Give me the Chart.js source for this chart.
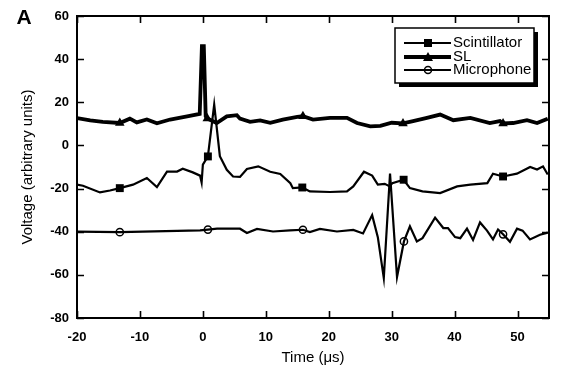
<!DOCTYPE html>
<html>
<head>
<meta charset="utf-8">
<script src="https://cdn.jsdelivr.net/npm/chart.js@4.4.0/dist/chart.umd.min.js"></script>
<style>
  html, body { margin: 0; padding: 0; background: #fff; }
  #wrap { position: relative; width: 569px; height: 377px; }
</style>
</head>
<body>
<div id="wrap"><canvas id="chart" width="569" height="377"></canvas></div>
<script>
// Valeurs (temps en µs, tension en unités arbitraires)
const slTime = [-20, -17.9, -15.9, -13.2, -11.6, -10.5, -8.9, -7.3, -5.2, -2.5, -0.5, -0.15, 0.15, 0.45, 0.7, 2.2, 3.8, 5.4, 5.9, 7.5, 9.1, 10.7, 12.7, 15.0, 15.9, 17.5, 20.2, 22.9, 24.5, 26.6, 28.2, 30.0, 31.8, 33.4, 35.6, 37.7, 39.8, 42.5, 45.6, 47.2, 47.7, 49.3, 51.5, 53.1, 54.8];
const slVoltage = [12.7, 11.6, 10.9, 10.4, 12.4, 10.7, 12.0, 10.3, 12.0, 13.5, 14.6, 46, 46, 13.5, 12.5, 10.4, 13.5, 14.0, 12.4, 10.9, 11.6, 10.5, 12.0, 13.2, 13.5, 12.0, 12.8, 12.8, 10.4, 8.8, 9.1, 10.5, 10.2, 11.3, 12.8, 14.3, 11.7, 12.8, 10.4, 11.3, 10.2, 10.4, 11.7, 10.4, 12.4];

const scintTime = [-20, -19.05, -16.35, -14.76, -13.2, -11.1, -8.9, -7.3, -5.7, -4.1, -3.2, -1.6, -0.45, -0.2, 0.0, 0.8, 1.8, 2.7, 3.8, 4.8, 5.9, 7.0, 8.8, 10.7, 12.3, 13.9, 14.3, 15.8, 17.0, 20.2, 22.9, 23.9, 25.6, 26.9, 27.8, 28.9, 29.7, 30.1, 31.9, 32.9, 34.9, 37.7, 40.4, 42.5, 45.2, 46.1, 47.7, 49.9, 52.0, 53.1, 54.05, 54.8];
const scintVoltage = [-18.2, -18.7, -21.8, -20.9, -19.8, -18.2, -15.1, -19.3, -12.1, -12.1, -10.8, -12.5, -14, -17.2, -8.9, -5.1, 18.9, -5, -11.3, -14.4, -14.6, -10.9, -9.7, -12.2, -13.2, -17.5, -19.8, -19.5, -21.3, -21.6, -21.3, -19, -12.2, -14, -18.2, -17.8, -19, -17.5, -15.9, -19.8, -21.3, -22.1, -19, -18.2, -17.5, -13.1, -14.4, -13.1, -10, -11.2, -9.7, -13.5];

const micTime = [-20, -13.2, -0.45, 0.8, 2.25, 5.9, 7.0, 8.6, 11.15, 13.85, 15.9, 17.0, 18.6, 21.3, 23.9, 25.45, 26.9, 27.8, 28.75, 29.74, 30.85, 31.95, 32.9, 34.0, 34.9, 36.9, 38.2, 38.95, 40.07, 40.9, 41.97, 42.93, 44.04, 45.15, 46.1, 46.9, 47.7, 48.8, 49.92, 50.8, 51.98, 53.57, 54.8];
const micVoltage = [-40, -40.2, -39.4, -39, -38.6, -38.6, -40.6, -38.7, -39.9, -39.4, -39.1, -40.2, -38.7, -39.9, -39.2, -40.8, -32.3, -42.5, -61.5, -13, -61, -44.5, -37.5, -44.5, -43, -33.5, -38.3, -38.3, -42.5, -43, -38.6, -43.8, -35.7, -39.5, -43.5, -39, -41.2, -44.7, -38.6, -39.5, -43.6, -41.4, -40.4];

// Instants où les symboles sont dessinés
const slMarkers = [-13.2, 0.7, 15.9, 31.8, 47.7];
const scintMarkers = [-13.2, 0.8, 15.8, 31.9, 47.7];
const micMarkers = [-13.2, 0.8, 15.9, 31.95, 47.7];

const seriesNames = ['Scintillator', 'SL', 'Microphone'];
const xTickValues = [-20, -10, 0, 10, 20, 30, 40, 50];
const yTickValues = [-80, -60, -40, -20, 0, 20, 40, 60];

function toPoints(_time, _values) {
  return _time.map((t, i) => ({x: t, y: _values[i]}));
}

// rayon du symbole seulement aux instants choisis
function markerRadius(_markers, _size) {
  return (ctx) => (ctx.raw && _markers.includes(ctx.raw.x)) ? _size : 0;
}

const FONT = '"Liberation Sans", Arial, sans-serif';

// Ticks vers l'intérieur, cadre, légende avec ombre, lettre A
const decorPlugin = {
  id: 'decor',
  afterDraw(chart) {
    const c = chart.ctx;
    const a = chart.chartArea;
    const xs = chart.scales.x;
    const ys = chart.scales.y;
    c.save();
    c.strokeStyle = '#000';
    c.lineWidth = 2;
    c.strokeRect(a.left, a.top, a.right - a.left, a.bottom - a.top);
    c.lineWidth = 1.6;
    c.beginPath();
    xTickValues.forEach((v) => {
      const px = Math.round(xs.getPixelForValue(v)) + 0.5;
      c.moveTo(px, a.bottom); c.lineTo(px, a.bottom - 7);
      c.moveTo(px, a.top); c.lineTo(px, a.top + 7);
    });
    yTickValues.forEach((v) => {
      const py = Math.round(ys.getPixelForValue(v)) + 0.5;
      c.moveTo(a.left, py); c.lineTo(a.left + 7, py);
      c.moveTo(a.right, py); c.lineTo(a.right - 7, py);
    });
    c.stroke();

    // légende
    const bx = 395, by = 28, bw = 139, bh = 55;
    c.fillStyle = '#000';
    c.fillRect(bx + 4, by + 4, bw, bh);
    c.fillStyle = '#fff';
    c.fillRect(bx, by, bw, bh);
    c.lineWidth = 1.5;
    c.strokeRect(bx, by, bw, bh);

    const rows = [43, 57, 70];
    chart.data.datasets.forEach((ds, i) => {
      const y = rows[i];
      c.strokeStyle = '#000';
      c.lineWidth = ds.borderWidth;
      c.beginPath();
      c.moveTo(404, y); c.lineTo(451, y);
      c.stroke();
      c.fillStyle = '#000';
      c.lineWidth = 1.5;
      if (ds.pointStyle === 'rect') {
        c.fillRect(424, y - 4, 8, 8);
      } else if (ds.pointStyle === 'triangle') {
        c.beginPath();
        c.moveTo(428, y - 5); c.lineTo(433, y + 4); c.lineTo(423, y + 4);
        c.closePath(); c.fill();
      } else {
        c.beginPath();
        c.arc(428, y, 3.5, 0, Math.PI * 2);
        c.stroke();
      }
      c.font = '15px ' + FONT;
      c.textBaseline = 'middle';
      c.textAlign = 'left';
      c.fillText(ds.label, 453, y);
    });

    c.font = 'bold 21px ' + FONT;
    c.textAlign = 'center';
    c.fillText('A', 24, 18);
    c.restore();
  }
};

new Chart(document.getElementById('chart'), {
  type: 'scatter',
  data: {
    datasets: [
      {
        label: seriesNames[0],
        data: toPoints(scintTime, scintVoltage),
        showLine: true,
        borderColor: '#000',
        borderWidth: 2.2,
        pointStyle: 'rect',
        pointRadius: markerRadius(scintMarkers, 5.6),
        pointBackgroundColor: '#000',
        pointBorderWidth: 0,
      },
      {
        label: seriesNames[1],
        data: toPoints(slTime, slVoltage),
        showLine: true,
        borderColor: '#000',
        borderWidth: 3.8,
        pointStyle: 'triangle',
        pointRadius: markerRadius(slMarkers, 5.5),
        pointBackgroundColor: '#000',
        pointBorderWidth: 0,
      },
      {
        label: seriesNames[2],
        data: toPoints(micTime, micVoltage),
        showLine: true,
        borderColor: '#000',
        borderWidth: 2.2,
        pointStyle: 'circle',
        pointRadius: markerRadius(micMarkers, 3.6),
        pointBackgroundColor: 'rgba(0,0,0,0)',
        pointBorderColor: '#000',
        pointBorderWidth: 1.5,
      },
    ]
  },
  options: {
    responsive: false,
    animation: false,
    events: [],
    layout: { padding: { left: 0, right: 20, top: 16, bottom: 0 } },
    plugins: {
      legend: { display: false },
      tooltip: { enabled: false },
    },
    scales: {
      x: {
        type: 'linear',
        min: -20,
        max: 55,
        afterBuildTicks: (s) => { s.ticks = xTickValues.map((v) => ({value: v})); },
        afterFit: (s) => { s.height = 59; },
        grid: { display: false, drawTicks: false },
        border: { display: false },
        ticks: { color: '#000', padding: 12, maxRotation: 0, font: { family: FONT, size: 13, weight: 'bold' } },
        title: { display: true, text: 'Time (\u03bcs)', color: '#000', padding: { top: 0, bottom: 10 }, font: { family: FONT, size: 15 } },
      },
      y: {
        type: 'linear',
        min: -80,
        max: 60,
        afterBuildTicks: (s) => { s.ticks = yTickValues.map((v) => ({value: v})); },
        afterFit: (s) => { s.width = 77; },
        grid: { display: false, drawTicks: false },
        border: { display: false },
        ticks: { color: '#000', padding: 8, font: { family: FONT, size: 13, weight: 'bold' } },
        title: { display: true, text: 'Voltage (arbitrary units)', color: '#000', padding: { top: 19, bottom: 0 }, font: { family: FONT, size: 15 } },
      }
    }
  },
  plugins: [decorPlugin]
});
</script>
</body>
</html>
